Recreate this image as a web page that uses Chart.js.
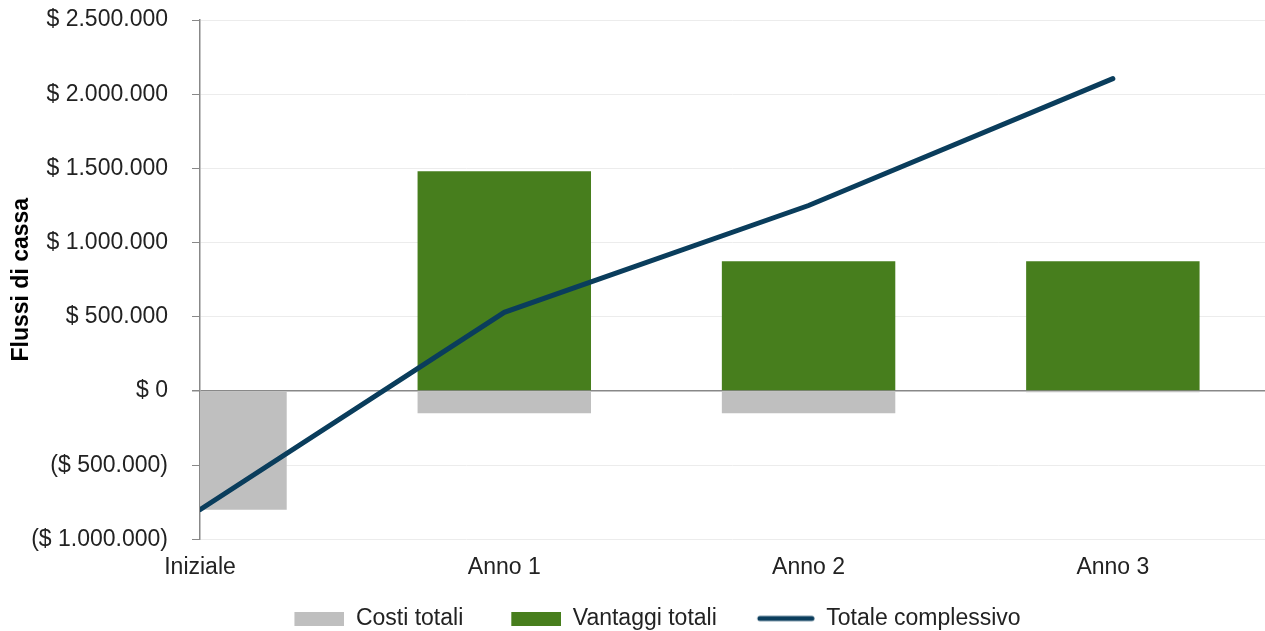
<!DOCTYPE html>
<html lang="it">
<head>
  <meta charset="UTF-8">
  <title>Flussi di cassa</title>
  <script src="https://cdn.jsdelivr.net/npm/chart.js"></script>
  <style>
    body { margin: 0; background: #fff; }
    #wrap { width: 1265px; height: 631px; }
  </style>
</head>
<body>
  <div id="wrap"><canvas id="cf"></canvas></div>

  <script>
    // Data
    const categories = ["Iniziale", "Anno 1", "Anno 2", "Anno 3"];
    const costiTotali = [-800000, -150000, -150000, -8000];
    const vantaggiTotali = [0, 1480000, 875000, 875000];
    const totaleComplessivo = [-800000, 530000, 1250000, 2105000];
    const yTicks = [-1000000, -500000, 0, 500000, 1000000, 1500000, 2000000, 2500000];

    const pts = arr => arr.map((v, i) => ({ x: i, y: v }));

    function money(v) {
      const s = Math.abs(v).toString().replace(/\B(?=(\d{3})+(?!\d))/g, ".");
      return v < 0 ? "($ " + s + ")" : "$ " + s;
    }

    const font = { family: "'Liberation Sans', Arial, sans-serif", size: 23 };

    // legend swatches: transparent left margin gives the wide gaps between items
    const SW = 92;
    function swatch(color, isLine) {
      const c = document.createElement("canvas");
      c.width = SW; c.height = 14;
      const g = c.getContext("2d");
      if (isLine) {
        g.strokeStyle = color; g.lineWidth = 5; g.lineCap = "round";
        g.beginPath(); g.moveTo(SW - 55, 7); g.lineTo(SW - 3, 7); g.stroke();
      } else {
        g.fillStyle = color;
        g.fillRect(SW - 50, 0, 50, 14);
      }
      return c;
    }

    const colors = ["#0a3d5c", "#bfbfbf", "#477e1d"];

    new Chart(document.getElementById("cf"), {
      type: "bar",
      data: {
        datasets: [
          {
            type: "line",
            label: "Totale complessivo",
            data: pts(totaleComplessivo),
            borderColor: colors[0],
            backgroundColor: colors[0],
            borderWidth: 5,
            borderCapStyle: "round",
            pointRadius: 0,
            stack: "tot",
            tension: 0,
            clip: 0
          },
          {
            label: "Costi totali",
            data: pts(costiTotali),
            backgroundColor: colors[1],
            stack: "cf",
            clip: 0
          },
          {
            label: "Vantaggi totali",
            data: pts(vantaggiTotali),
            backgroundColor: colors[2],
            stack: "cf",
            clip: 0
          }
        ]
      },
      options: {
        responsive: true,
        maintainAspectRatio: false,
        animation: false,
        layout: { padding: { top: 20, right: 0, left: 8, bottom: -9 } },
        datasets: {
          bar: { categoryPercentage: 1, barPercentage: 0.57 }
        },
        plugins: {
          tooltip: { enabled: false },
          legend: {
            position: "bottom",
            labels: {
              font: font,
              color: "#222",
              usePointStyle: true,
              pointStyleWidth: SW,
              boxHeight: 14,
              padding: 6,
              generateLabels: chart => {
                const items = Chart.defaults.plugins.legend.labels.generateLabels(chart);
                items.forEach(it => { it.pointStyle = swatch(colors[it.datasetIndex], it.datasetIndex === 0); });
                return items;
              },
              sort: (a, b) => (a.datasetIndex === 0 ? 3 : a.datasetIndex) - (b.datasetIndex === 0 ? 3 : b.datasetIndex)
            }
          }
        },
        scales: {
          x: {
            type: "linear",
            min: 0,
            max: 3.5,
            stacked: true,
            offset: false,
            afterBuildTicks: axis => { axis.ticks = categories.map((c, i) => ({ value: i })); },
            afterFit: axis => { axis.paddingLeft = 0; axis.paddingRight = 0; axis.height += 6; },
            grid: { display: false, drawTicks: false, offset: false },
            border: { display: false },
            ticks: {
              font: font,
              color: "#222",
              padding: 14,
              maxRotation: 0,
              autoSkip: false,
              callback: v => categories[v] || ""
            }
          },
          y: {
            stacked: true,
            min: yTicks[0],
            max: yTicks[yTicks.length - 1],
            afterBuildTicks: axis => { axis.ticks = yTicks.map(v => ({ value: v })); },
            afterFit: axis => { axis.paddingTop = 0; axis.paddingBottom = 0; axis.width = 192; },
            border: { display: true, color: "#888", width: 1.5 },
            grid: {
              color: c => c.tick && c.tick.value === 0 ? "#888" : "#ececec",
              lineWidth: c => c.tick && c.tick.value === 0 ? 1.5 : 1,
              tickColor: "#888",
              tickLength: 8
            },
            ticks: {
              font: font,
              color: "#222",
              padding: 24,
              callback: v => money(v)
            },
            title: {
              display: true,
              text: "Flussi di cassa",
              font: { family: font.family, size: 23, weight: "bold" },
              color: "#000",
              padding: { top: 0, bottom: 4 }
            }
          }
        }
      }
    });
  </script>
</body>
</html>
